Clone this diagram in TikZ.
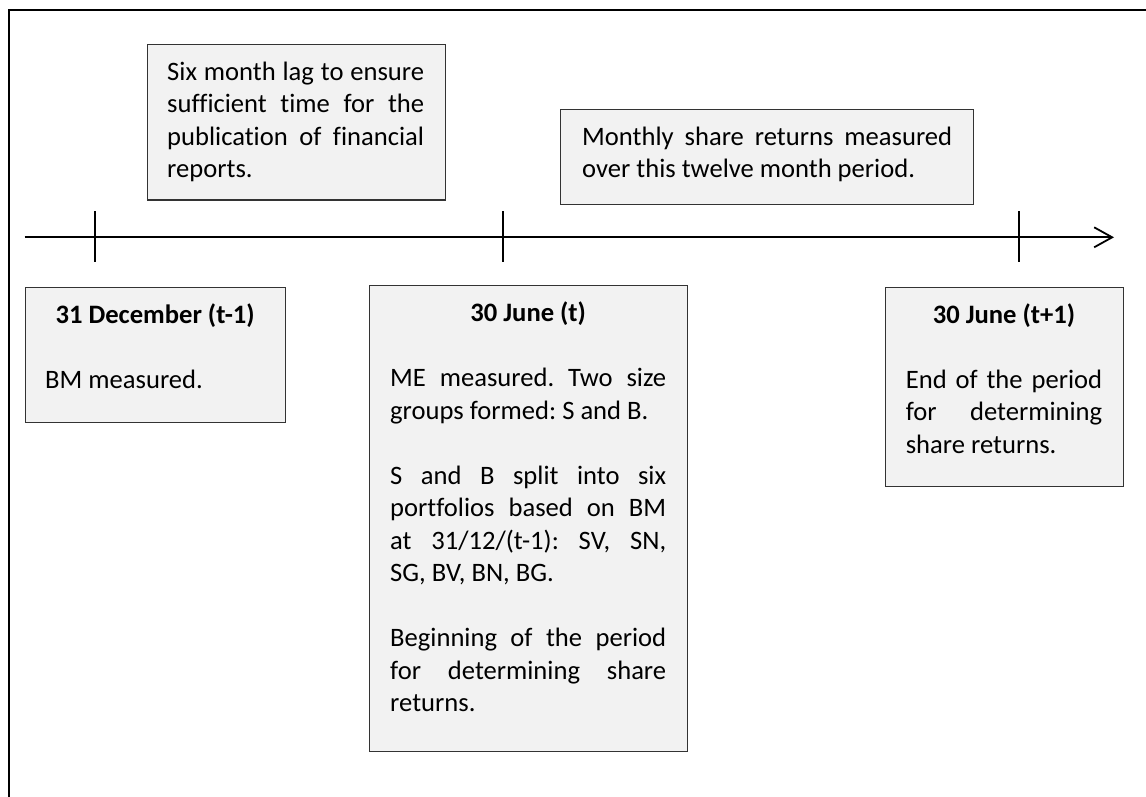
\documentclass[tikz,border=0pt]{standalone}
\usepackage{fontspec}
\setmainfont{Carlito}[Ligatures=NoCommon]
\usetikzlibrary{arrows.meta}
\definecolor{boxfill}{HTML}{F2F2F2}
\definecolor{boxline}{HTML}{333333}
\newcommand\myjl[1]{\hbox to\linewidth{\frenchspacing\spaceskip=0.226em plus 1fill minus 0.05em\relax #1}}
\newcommand\myll[1]{\hbox to\linewidth{\frenchspacing #1\hfil}}
\newcommand\mytl[1]{\hbox to\linewidth{\hfil\bfseries #1\hfil}}
\newcommand\mygap{\vskip 32.5pt}
\begin{document}
\begin{tikzpicture}[x=1pt,y=-1pt,
  boxst/.style={draw=boxline, fill=boxfill, line width=1.3pt, inner sep=0pt, anchor=north west},
  txt/.style={inner sep=0pt, anchor=base west, font=\fontsize{26.6}{32.5}\selectfont},
  axisln/.style={line width=1.8pt, black},
  tickln/.style={line width=1.8pt, black},
  frameln/.style={line width=1.8pt, black}]
\useasboundingbox (0,0) rectangle (1146,796);
% outer frame (partly cropped)
\draw[frameln] (8.8,800) -- (8.8,10) -- (1150,10);
% boxes
\node[boxst, minimum width=298.4pt, minimum height=155.6pt] (boxA) at (146.6,43.7) {};
\node[boxst, minimum width=413pt, minimum height=95pt] (boxM) at (560,109) {};
\node[boxst, minimum width=260.3pt, minimum height=135pt] (boxB) at (24.7,287) {};
\node[boxst, minimum width=318pt, minimum height=466pt] (boxC) at (369,285) {};
\node[boxst, minimum width=238pt, minimum height=199pt] (boxD) at (885,287) {};
% texts
\node[txt] (tA) at (167,80) {\parbox[t]{257pt}{%
 \myjl{Six month lag to ensure}
 \myjl{sufficient time for the}
 \myjl{publication of financial}
 \myll{reports.}}};
\node[txt] (tM) at (582,145) {\parbox[t]{370pt}{%
 \myjl{Monthly share returns measured}
 \myll{over this twelve month period.}}};
\node[txt] (tB) at (45,323) {\parbox[t]{220pt}{%
 \mytl{31 December (t-1)}
 \mygap
 \myll{BM measured.}}};
\node[txt] (tC) at (390,321.5) {\parbox[t]{276pt}{%
 \mytl{30 June (t)}
 \mygap
 \myjl{ME measured. Two size}
 \myll{groups formed: S and B.}
 \mygap
 \myjl{S and B split into six}
 \myjl{portfolios based on BM}
 \myjl{at 31/12/(t-1): SV, SN,}
 \myll{SG, BV, BN, BG.}
 \mygap
 \myjl{Beginning of the period}
 \myjl{for determining share}
 \myll{returns.}}};
\node[txt] (tD) at (905.6,323) {\parbox[t]{196.4pt}{%
 \mytl{30 June (t+1)}
 \mygap
 \myjl{End of the period}
 \myjl{for determining}
 \myll{share returns.}}};
% timeline
\coordinate (axL) at (24.5,237.3);
\coordinate (axR) at (1114,237.3);
\draw[axisln, -{Straight Barb[length=18pt, width=20pt]}] (axL) -- (axR);
\coordinate (t1a) at (95,211); \coordinate (t1b) at (95,262);
\coordinate (t2a) at (503,211); \coordinate (t2b) at (503,262);
\coordinate (t3a) at (1019,211); \coordinate (t3b) at (1019,262);
\draw[tickln] (t1a) -- (t1b);
\draw[tickln] (t2a) -- (t2b);
\draw[tickln] (t3a) -- (t3b);
\end{tikzpicture}
\end{document}
